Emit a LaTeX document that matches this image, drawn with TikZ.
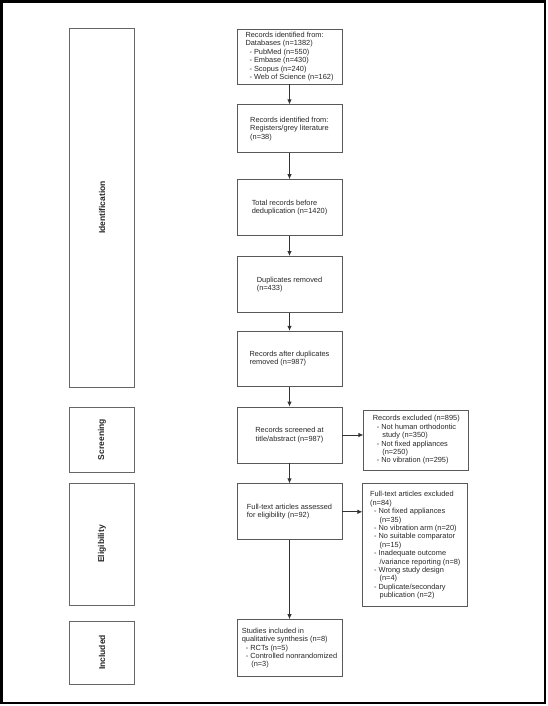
\documentclass[tikz,border=0pt]{standalone}
\usepackage{fontspec}
\setmainfont{Liberation Sans}
\usetikzlibrary{
	positioning,
	arrows.meta
}
\newcommand\bul{\hspace*{4pt}- }
\newcommand\hng{\hspace*{9.5pt}}
\tikzset{
	node distance=21pt,
	every node/.append style={
		font=\fontsize{7.4}{8.4}\selectfont,
		text=black!85
	},
	every edge/.append style={
		draw=black!80,
		line width=0.8pt,
		-{Latex[length=5pt,width=4.5pt]}
	},
	stage/.style={
		draw=black!65, line width=0.8pt,
		minimum width=105pt, minimum height=56pt,
		inner sep=2pt, align=left
	},
	phase/.style={
		draw=black!60, line width=0.8pt,
		minimum width=65pt, inner sep=0pt,
		font=\fontsize{8.5}{10}\selectfont\bfseries
	},
	note/.style={
		draw=black!65, line width=0.8pt,
		minimum width=105pt, inner sep=2pt, align=left
	}
}

\begin{document}
\begin{tikzpicture}[x=1pt,y=-1pt]
	\useasboundingbox (0,0) rectangle (548,706);
	\draw[line width=2.5pt] (1.5,1.5) rectangle (545,703);

	% phases
	\draw
		(102,207.5) node[phase,minimum height=359pt] (ident) {\rotatebox{90}{Identification}}
		(102,439.5) node[phase,minimum height=65pt]  (scr)   {\rotatebox{90}{Screening}}
		(102,544)   node[phase,minimum height=122pt] (elig)  {\rotatebox{90}{Eligibility}}
		(102,652.5) node[phase,minimum height=63pt]  (incl)  {\rotatebox{90}{Included}}
	;

	% flow
	\draw
		(289.5,56.5) node[stage,minimum height=55pt] (b1) {Records identified from:\\Databases (n=1382)\\\bul PubMed (n=550)\\\bul Embase (n=430)\\\bul Scopus (n=240)\\\bul Web of Science (n=162)}
		node[stage,minimum height=48pt,below=20pt of b1] (b2) {Records identified from:\\Registers/grey literature\\(n=38)}
		node[stage,below=26pt of b2]                 (b3) {Total records before\\deduplication (n=1420)}
		node[stage,below=20pt of b3]                 (b4) {Duplicates removed\\(n=433)}
		node[stage,minimum height=55pt,below=18pt of b4] (b5) {Records after duplicates\\removed (n=987)}
		node[stage,align=center,below=20pt of b5]    (b6) {Records screened at\\title/abstract (n=987)}
		node[stage,below=20pt of b6]                 (b7) {Full-text articles assessed\\for eligibility (n=92)}
		node[stage,minimum height=57pt,below=79pt of b7] (b8) {Studies included in\\qualitative synthesis (n=8)\\\bul RCTs (n=5)\\\bul Controlled nonrandomized\\\hng(n=3)}

		node[note,minimum height=60pt,right=21pt of b6,yshift=-5pt] (ex1) {Records excluded (n=895)\\\bul Not human orthodontic\\\hng study (n=350)\\\bul Not fixed appliances\\\hng(n=250)\\\bul No vibration (n=295)}
		node[note,minimum height=123pt,below right=0pt and 20pt of b7.north east] (ex2) {Full-text articles excluded\\(n=84)\\\bul Not fixed appliances\\\hng(n=35)\\\bul No vibration arm (n=20)\\\bul No suitable comparator\\\hng(n=15)\\\bul Inadequate outcome\\\hng/variance reporting (n=8)\\\bul Wrong study design\\\hng(n=4)\\\bul Duplicate/secondary\\\hng publication (n=2)}

		(b1) edge (b2)
		(b2) edge (b3)
		(b3) edge (b4)
		(b4) edge (b5)
		(b5) edge (b6)
		(b6) edge (b7)
		(b7) edge (b8)
		(b6) edge (b6 -| ex1.west)
		(b7) edge (b7 -| ex2.west)
	;
\end{tikzpicture}
\end{document}
